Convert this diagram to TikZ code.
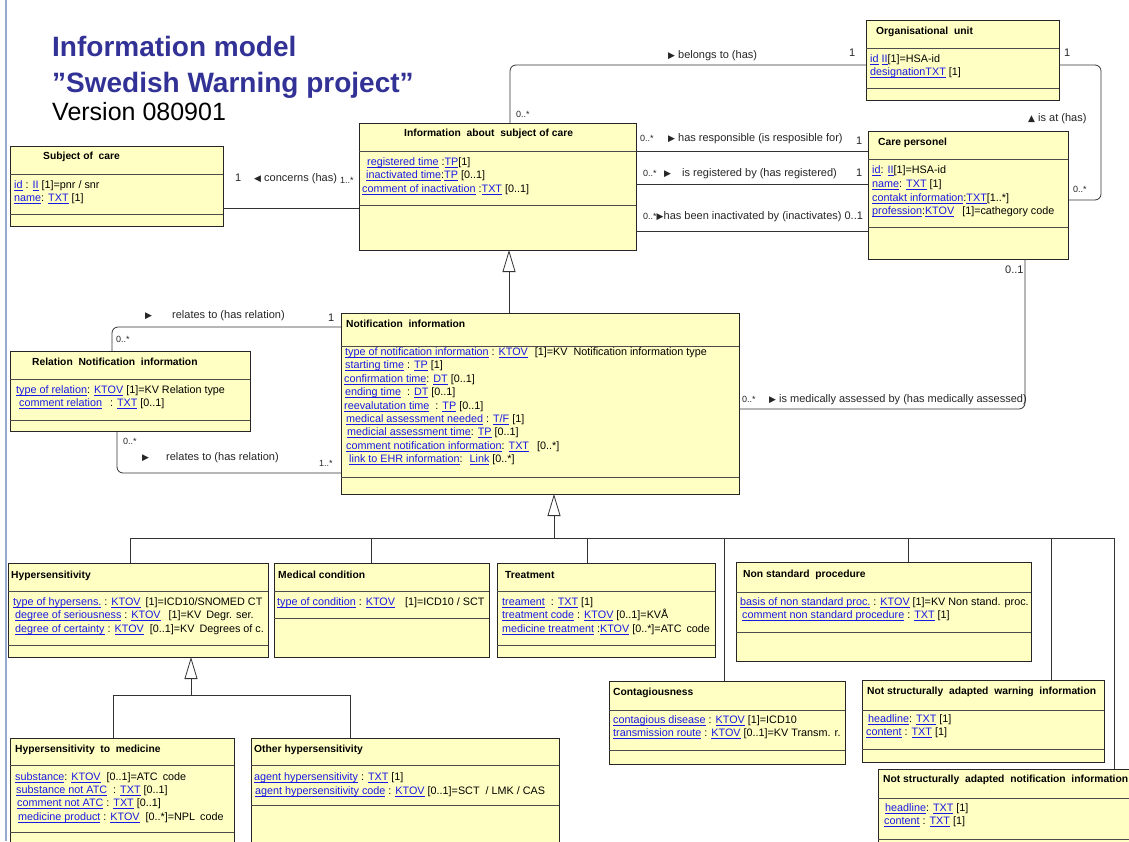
\documentclass[tikz,border=0pt]{standalone}
\usepackage{fontspec}
\setmainfont{Liberation Sans}
\newfontfamily\symf{DejaVu Sans}
\usetikzlibrary{calc,arrows.meta}
\definecolor{linkblue}{RGB}{25,25,225}
\definecolor{titleblue}{RGB}{50,50,150}
\definecolor{boxfill}{RGB}{255,255,196}
\definecolor{frameblue}{RGB}{150,170,205}
\newsavebox\lkbox
\newcommand\lk[1]{\textcolor{linkblue}{\sbox\lkbox{#1}\rlap{\rule[-1.7pt]{\wd\lkbox}{0.6pt}}\usebox\lkbox}}
\newcommand\rt{{\symf\fontsize{9}{10}\selectfont ▶}}
\newcommand\lt{{\symf\fontsize{9}{10}\selectfont ◀}}
\newcommand\ut{{\symf\fontsize{9}{10}\selectfont ▲}}
\newcommand\umlbox[7]{%
  \node[cls, minimum width=#4, minimum height=#5] (#1) at (#2,#3) {};
  \draw[sepl] ($(#1.north west)+(0,#6)$) -- ($(#1.north east)+(0,#6)$);
  \draw[sepl] ($(#1.north west)+(0,#7)$) -- ($(#1.north east)+(0,#7)$);
}
\begin{document}
\begin{tikzpicture}[x=1pt,y=-1pt,
 cls/.style={draw=black!85, fill=boxfill, line width=0.9pt, anchor=north west, inner sep=0pt, outer sep=0pt},
 sepl/.style={draw=black!70, line width=0.8pt},
 hdr/.style={font=\fontsize{10.3}{12}\selectfont\bfseries, anchor=west, inner sep=0pt, text height=10pt, text depth=1pt},
 attr/.style={font=\fontsize{10.8}{12}\selectfont, anchor=west, inner sep=0pt, text height=10pt, text depth=1pt},
 lbl/.style={font=\fontsize{11}{12}\selectfont, text=black!85, anchor=west, inner sep=0pt, text height=10pt, text depth=1pt},
 small/.style={font=\fontsize{9}{10}\selectfont},
 line/.style={draw=black!80, line width=0.8pt},
 assoc/.style={draw=black!80, line width=0.8pt, rounded corners=6pt},
 gen/.style={draw=black!80, line width=0.8pt, -{Triangle[open, fill=white, length=22pt, width=13pt]}},
]
\useasboundingbox (0,0) rectangle (1129,841);
\clip (0,0) rectangle (1129,841);
\fill[white] (0,0) rectangle (1129,841);
\draw[frameblue, line width=1.2pt] (6,0) -- (6,841);

% titles
\node[font=\fontsize{28}{30}\selectfont\bfseries, text=titleblue, anchor=base west, inner sep=0pt] (t1) at (52,56) {Information model};
\node[font=\fontsize{28}{30}\selectfont\bfseries, text=titleblue, anchor=base west, inner sep=0pt] (t2) at (52,92) {”Swedish Warning project”};
\node[font=\fontsize{25}{28}\selectfont, anchor=base west, inner sep=0pt] (t3) at (52,120) {Version 080901};

\coordinate (busL) at (130,538);
\coordinate (busR) at (1114,538);
\coordinate (busN) at (554,538);
\coordinate (hbusL) at (113,695);
\coordinate (hbusR) at (350,695);
\coordinate (hbusN) at (191,695);

% ---------- classes ----------
\umlbox{soc}{10}{146}{213}{80}{28}{68}
\node[hdr] (soc-t) at (43,155) {Subject of~ care};
\node[attr] (soc-a1) at (14,184) {\lk{id} : \lk{II} [1]=pnr / snr};
\node[attr] (soc-a2) at (14,197) {\lk{name}: \lk{TXT} [1]};

\umlbox{info}{359}{123}{277}{127}{28}{82}
\node[hdr] (info-t) at (404,132) {Information~ about~ subject of care};
\node[attr] (info-a1) at (367,161) {\lk{registered time} :\lk{TP}[1]};
\node[attr] (info-a2) at (366,174) {\lk{inactivated time}:\lk{TP} [0..1]};
\node[attr] (info-a3) at (362,188) {\lk{comment of inactivation} :\lk{TXT} [0..1]};

\umlbox{org}{866}{20}{193}{80}{28}{68}
\node[hdr] (org-t) at (876,30) {Organisational~ unit};
\node[attr] (org-a1) at (870,58) {\lk{id} \lk{II}[1]=HSA-id};
\node[attr] (org-a2) at (870,71) {\lk{designation}\lk{TXT} [1]};

\umlbox{cp}{868}{131}{200}{128}{28}{96}
\node[hdr] (cp-t) at (878,141) {Care personel};
\node[attr] (cp-a1) at (872,169) {\lk{id}: \lk{II}[1]=HSA-id};
\node[attr] (cp-a2) at (872,183) {\lk{name}: \lk{TXT} [1]};
\node[attr] (cp-a3) at (872,197) {\lk{contakt information}:\lk{TXT}[1..*]};
\node[attr] (cp-a4) at (872,210) {\lk{profession}:\lk{KTOV}\hspace{8pt}[1]=cathegory code};

\umlbox{notif}{341}{313}{398}{181}{33}{164}
\node[hdr] (notif-t) at (346,323) {Notification~ information};
\node[attr] (notif-a1) at (345,351) {\lk{type of notification information} : \lk{KTOV}\hspace{7pt}[1]=KV\hspace{3pt} Notification information type};
\node[attr] (notif-a2) at (345,364) {\lk{starting time} : \lk{TP} [1]};
\node[attr] (notif-a3) at (344,378) {\lk{confirmation time}: \lk{DT} [0..1]};
\node[attr] (notif-a4) at (345,391) {\lk{ending time}\hspace{3pt} : \lk{DT} [0..1]};
\node[attr] (notif-a5) at (344,405) {\lk{reevalutation time}\hspace{3pt} : \lk{TP} [0..1]};
\node[attr] (notif-a6) at (346,418) {\lk{medical assessment needed} : \lk{T/F} [1]};
\node[attr] (notif-a7) at (347,431) {\lk{medicial assessment time}: \lk{TP} [0..1]};
\node[attr] (notif-a8) at (346,445) {\lk{comment notification information}: \lk{TXT}\hspace{5pt} [0..*]};
\node[attr] (notif-a9) at (349,458) {\lk{link to EHR information}:\hspace{3pt} \lk{Link} [0..*]};

\umlbox{rel}{10}{351}{240}{80}{28}{69}
\node[hdr] (rel-t) at (32,361) {Relation~ Notification~ information};
\node[attr] (rel-a1) at (16,389) {\lk{type of relation}: \lk{KTOV} [1]=KV Relation type};
\node[attr] (rel-a2) at (19,402) {\lk{comment relation}\hspace{5pt} : \lk{TXT} [0..1]};

\umlbox{hyp}{8}{563}{260}{94}{28}{82}
\node[hdr] (hyp-t) at (11,574) {Hypersensitivity};
\node[attr] (hyp-a1) at (13,601) {\lk{type of hypersens.} : \lk{KTOV}\hspace{2pt} [1]=ICD10/SNOMED CT};
\node[attr] (hyp-a2) at (15,614) {\lk{degree of seriousness} : \lk{KTOV}\hspace{5pt} [1]=KV\hspace{2pt} Degr. ser.};
\node[attr] (hyp-a3) at (15,628) {\lk{degree of certainty} : \lk{KTOV}\hspace{3pt} [0..1]=KV\hspace{2pt} Degrees of c.};

\umlbox{med}{274}{563}{215}{94}{28}{55}
\node[hdr] (med-t) at (278,574) {Medical condition};
\node[attr] (med-a1) at (277,601) {\lk{type of condition} : \lk{KTOV}\hspace{7pt} [1]=ICD10 / SCT};

\umlbox{treat}{497}{563}{218}{94}{28}{82}
\node[hdr] (treat-t) at (505,574) {Treatment};
\node[attr] (treat-a1) at (502,601) {\lk{treament}\hspace{3pt} : \lk{TXT} [1]};
\node[attr] (treat-a2) at (502,614) {\lk{treatment code} : \lk{KTOV} [0..1]=KVÅ};
\node[attr] (treat-a3) at (502,628) {\lk{medicine treatment} :\lk{KTOV} [0..*]=ATC\hspace{2pt} code};

\umlbox{nsp}{736}{562}{295}{99}{30}{70}
\node[hdr] (nsp-t) at (743,573) {Non standard~ procedure};
\node[attr] (nsp-a1) at (740,601) {\lk{basis of non standard proc.} : \lk{KTOV} [1]=KV Non stand. proc.};
\node[attr] (nsp-a2) at (742,614) {\lk{comment non standard procedure} : \lk{TXT} [1]};

\umlbox{cont}{609}{681}{236}{83}{29}{69}
\node[hdr] (cont-t) at (613,691) {Contagiousness};
\node[attr] (cont-a1) at (613,719) {\lk{contagious disease} : \lk{KTOV} [1]=ICD10};
\node[attr] (cont-a2) at (613,732) {\lk{transmission route} : \lk{KTOV} [0..1]=KV Transm. r.};

\umlbox{nsaw}{862}{680}{242}{82}{30}{69}
\node[hdr] (nsaw-t) at (867,690) {Not structurally~ adapted~ warning~ information};
\node[attr] (nsaw-a1) at (868,718) {\lk{headline}: \lk{TXT} [1]};
\node[attr] (nsaw-a2) at (866,731) {\lk{content} : \lk{TXT} [1]};

\umlbox{nsan}{878}{769}{262}{91}{29}{70}
\node[hdr] (nsan-t) at (883,778) {Not structurally~ adapted~ notification~ information};
\node[attr] (nsan-a1) at (885,807) {\lk{headline}: \lk{TXT} [1]};
\node[attr] (nsan-a2) at (884,820) {\lk{content} : \lk{TXT} [1]};

\umlbox{hmed}{10}{738}{224}{122}{27}{94}
\node[hdr] (hmed-t) at (15,748) {Hypersensitivity~ to~ medicine};
\node[attr] (hmed-a1) at (15,776) {\lk{substance}: \lk{KTOV}\hspace{3pt} [0..1]=ATC\hspace{2pt} code};
\node[attr] (hmed-a2) at (16,789) {\lk{substance not ATC}\hspace{3pt} : \lk{TXT} [0..1]};
\node[attr] (hmed-a3) at (17,802) {\lk{comment not ATC} : \lk{TXT} [0..1]};
\node[attr] (hmed-a4) at (18,816) {\lk{medicine product} : \lk{KTOV}\hspace{3pt} [0..*]=NPL\hspace{2pt} code};

\umlbox{ohyp}{251}{738}{308}{122}{27}{67}
\node[hdr] (ohyp-t) at (254,748) {Other hypersensitivity};
\node[attr] (ohyp-a1) at (254,776) {\lk{agent hypersensitivity} : \lk{TXT} [1]};
\node[attr] (ohyp-a2) at (255,790) {\lk{agent hypersensitivity code} : \lk{KTOV} [0..1]=SCT\hspace{3pt} / LMK / CAS};

% ---------- associations ----------
\draw[assoc] (soc.east |- 0,208) -- (info.west |- 0,208);
\draw[assoc] (info.north -| 510,0) |- (org.west |- 0,65);
\draw[assoc] (org.east |- 0,65) -| (1101,120) |- (cp.east |- 0,200);
\draw[assoc] (info.east |- 0,151) -- (cp.west |- 0,151);
\draw[assoc] (info.east |- 0,184) -- (cp.west |- 0,184);
\draw[assoc] (info.east |- 0,231) -- (cp.west |- 0,231);
\draw[assoc] (notif.east |- 0,409) -| (cp.south -| 1025,0);
\draw[assoc] (notif.west |- 0,327) -| (rel.north -| 112,0);
\draw[assoc] (rel.south -| 117,0) |- (notif.west |- 0,473);

% ---------- generalizations ----------
\draw[gen] (notif.north -| 509,0) -- (info.south -| 509,0);
\draw[gen] (busN) -- (notif.south -| busN);
\draw[line] (busL) -- (busR);
\draw[line] (hyp.north -| busL) -- (busL);
\draw[line] (med.north -| 371,0) -- (371,538);
\draw[line] (treat.north -| 587,0) -- (587,538);
\draw[line] (cont.north -| 724,0) -- (724,538);
\draw[line] (nsp.north -| 908,0) -- (908,538);
\draw[line] (nsaw.north -| 1051,0) -- (1051,538);
\draw[line] (nsan.north -| busR) -- (busR);
\draw[gen] (hbusN) -- (hyp.south -| hbusN);
\draw[line] (hmed.north -| hbusL) -- (hbusL) -- (hbusR) -- (ohyp.north -| hbusR);

% ---------- labels ----------
\node[lbl] (l1) at (235,177) {1};
\node[lbl] (l2) at (254,177) {\lt\ concerns (has)};
\node[lbl, small] (l3) at (340,179) {1..*};
\node[lbl, small] (l4) at (516,113) {0..*};
\node[lbl] (l5) at (668,54) {\rt\ belongs to (has)};
\node[lbl] (l6) at (849,52) {1};
\node[lbl] (l7) at (1064,52) {1};
\node[lbl] (l8) at (1028,117) {\ut\ is at (has)};
\node[lbl, small] (l9) at (1073,188) {0..*};
\node[lbl, small] (l10) at (640,137) {0..*};
\node[lbl] (l11) at (668,137) {\rt\ has responsible (is resposible for)};
\node[lbl] (l12) at (856,140) {1};
\node[lbl, small] (l13) at (643,172) {0..*};
\node[lbl] (l14) at (664,172) {\rt\hspace{8pt} is registered by (has registered)};
\node[lbl] (l15) at (856,172) {1};
\node[lbl] (l16) at (643,215) {{\small 0..*}\rt has been inactivated by (inactivates) 0..1};
\node[lbl, small] (l17) at (742,398) {0..*};
\node[lbl] (l18) at (769,398) {\rt\ is medically assessed by (has medically assessed)};
\node[lbl] (l19) at (1005,269) {0..1};
\node[lbl] (l20) at (145,314) {\rt};
\node[lbl] (l21) at (172,314) {relates to (has relation)};
\node[lbl] (l22) at (328,317) {1};
\node[lbl, small] (l23) at (116,338) {0..*};
\node[lbl, small] (l24) at (123,440) {0..*};
\node[lbl] (l25) at (142,456) {\rt};
\node[lbl] (l26) at (166,456) {relates to (has relation)};
\node[lbl, small] (l27) at (319,462) {1..*};
\end{tikzpicture}
\end{document}
